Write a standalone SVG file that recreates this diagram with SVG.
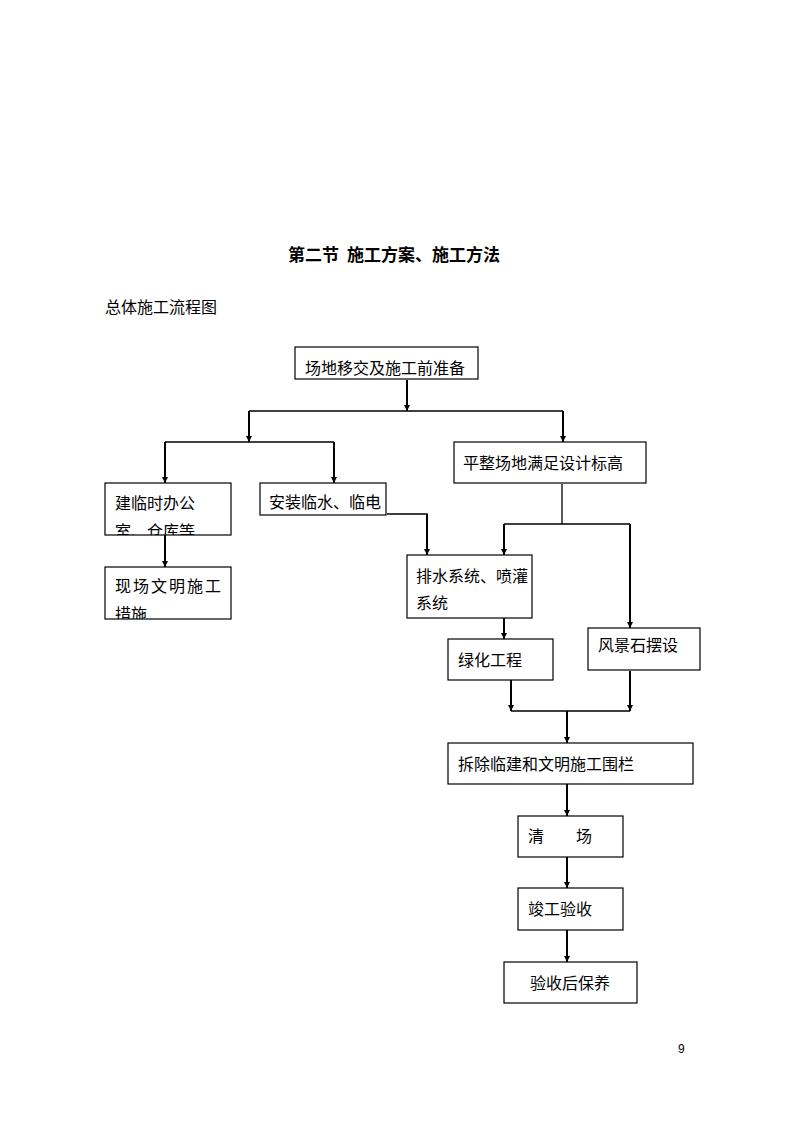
<svg xmlns="http://www.w3.org/2000/svg" width="794" height="1123" viewBox="0 0 794 1123">
<style>
.box{fill:#fff;stroke:#000;stroke-width:1.2}
.t{font-family:"Noto Sans CJK SC","Liberation Sans",sans-serif;font-size:16px;fill:#000}
.h{font-family:"Noto Sans CJK SC","Liberation Sans",sans-serif;font-size:17px;font-weight:bold;fill:#000}
.a{fill:none;stroke:#000;stroke-width:2}
.l{fill:none;stroke:#000;stroke-width:1.3}
</style>
<defs>
<marker id="ar" viewBox="0 0 6 6" refX="6" refY="3" markerWidth="3" markerHeight="3" orient="auto" markerUnits="strokeWidth">
<path d="M0,0 L6,3 L0,6 z" fill="#000"/>
</marker>
<clipPath id="c1"><rect x="105" y="483" width="126" height="52"/></clipPath>
<clipPath id="c2"><rect x="105" y="567" width="126" height="52"/></clipPath>
</defs>
<rect width="794" height="1123" fill="#fff"/>
<text class="h" x="288" y="261">第二节</text>
<text class="h" x="347" y="261">施工方案、施工方法</text>
<text class="t" x="105" y="313">总体施工流程图</text>
<g id="connectors">
<line class="a" x1="407" y1="380" x2="407" y2="411" marker-end="url(#ar)"/>
<line class="l" x1="249" y1="411" x2="563" y2="411"/>
<line class="a" x1="249" y1="411" x2="249" y2="442" marker-end="url(#ar)"/>
<line class="a" x1="563" y1="411" x2="563" y2="442" marker-end="url(#ar)"/>
<line class="l" x1="165" y1="442" x2="334" y2="442"/>
<line class="a" x1="165" y1="442" x2="165" y2="483" marker-end="url(#ar)"/>
<line class="a" x1="334" y1="442" x2="334" y2="483" marker-end="url(#ar)"/>
<line class="a" x1="165" y1="535" x2="165" y2="567" marker-end="url(#ar)"/>
<polyline class="l" points="387,514 427,514 427,520"/>
<line class="a" x1="427" y1="514" x2="427" y2="555" marker-end="url(#ar)"/>
<line class="l" x1="562" y1="484" x2="562" y2="524"/>
<line class="l" x1="504" y1="524" x2="630" y2="524"/>
<line class="a" x1="504" y1="524" x2="504" y2="555" marker-end="url(#ar)"/>
<line class="a" x1="630" y1="524" x2="630" y2="628" marker-end="url(#ar)"/>
<line class="a" x1="504" y1="618" x2="504" y2="639" marker-end="url(#ar)"/>
<line class="a" x1="511" y1="680" x2="511" y2="711" marker-end="url(#ar)"/>
<line class="a" x1="630" y1="671" x2="630" y2="711" marker-end="url(#ar)"/>
<line class="l" x1="511" y1="711" x2="630" y2="711"/>
<line class="a" x1="567" y1="711" x2="567" y2="743" marker-end="url(#ar)"/>
<line class="a" x1="567" y1="784" x2="567" y2="816" marker-end="url(#ar)"/>
<line class="a" x1="567" y1="857" x2="567" y2="888" marker-end="url(#ar)"/>
<line class="a" x1="567" y1="930" x2="567" y2="962" marker-end="url(#ar)"/>
</g>
<g id="n1"><rect class="box" x="295" y="347" width="183" height="32"/><text class="t" x="305" y="374">场地移交及施工前准备</text></g>
<g id="n2"><rect class="box" x="454" y="442" width="192" height="41"/><text class="t" x="463" y="469">平整场地满足设计标高</text></g>
<g id="n3"><rect class="box" x="105" y="483" width="126" height="52"/><g clip-path="url(#c1)"><text class="t" x="115" y="509">建临时办公</text><text class="t" x="115" y="537">室、仓库等</text></g></g>
<g id="n4"><rect class="box" x="260" y="483" width="126" height="32"/><text class="t" x="269" y="508">安装临水、临电</text></g>
<g id="n5"><rect class="box" x="105" y="567" width="126" height="52"/><g clip-path="url(#c2)"><text class="t" x="115" y="592" letter-spacing="2">现场文明施工</text><text class="t" x="115" y="620">措施</text></g></g>
<g id="n6"><rect class="box" x="407" y="555" width="125" height="63"/><text class="t" x="416" y="582">排水系统、喷灌</text><text class="t" x="416" y="609">系统</text></g>
<g id="n7"><rect class="box" x="448" y="639" width="105" height="41"/><text class="t" x="458" y="666">绿化工程</text></g>
<g id="n8"><rect class="box" x="588" y="628" width="112" height="42"/><text class="t" x="598" y="651">风景石摆设</text></g>
<g id="n9"><rect class="box" x="448" y="743" width="245" height="41"/><text class="t" x="458" y="770">拆除临建和文明施工围栏</text></g>
<g id="n10"><rect class="box" x="518" y="816" width="105" height="41"/><text class="t" x="528" y="842">清</text><text class="t" x="576" y="842">场</text></g>
<g id="n11"><rect class="box" x="518" y="888" width="105" height="42"/><text class="t" x="528" y="915">竣工验收</text></g>
<g id="n12"><rect class="box" x="504" y="962" width="133" height="41"/><text class="t" x="530" y="989">验收后保养</text></g>
<text x="678" y="1053" font-family="Liberation Sans, sans-serif" font-size="12" fill="#000">9</text>
</svg>
